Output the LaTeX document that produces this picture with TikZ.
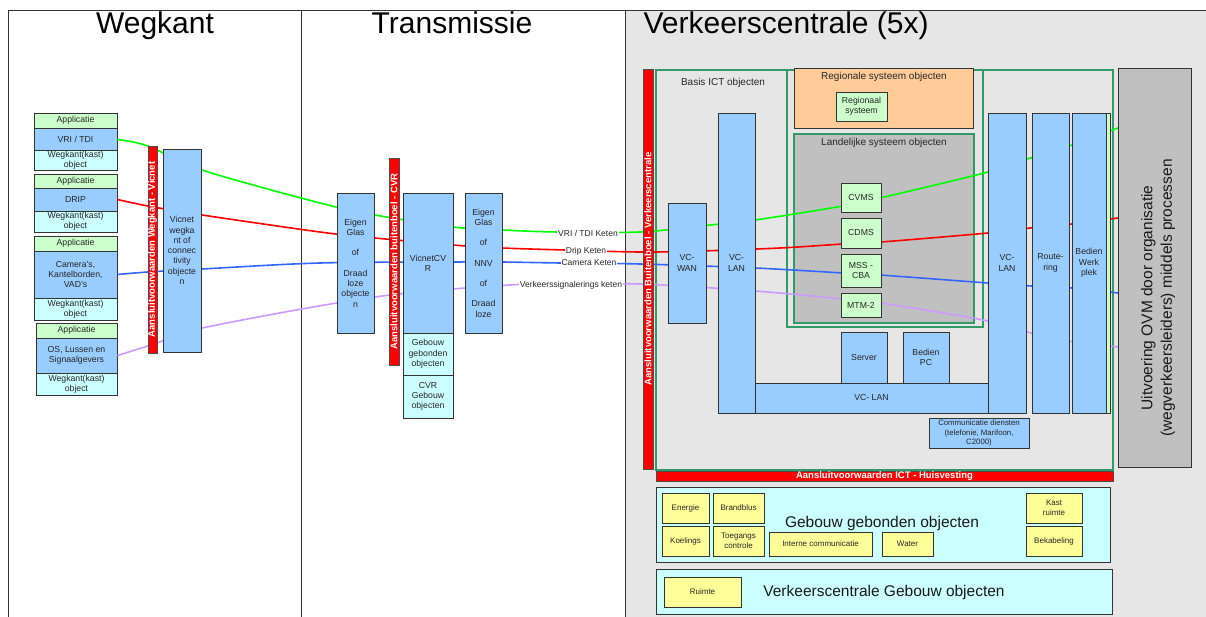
\documentclass[tikz,border=0pt]{standalone}
\usepackage{fontspec}
\setmainfont{Liberation Sans}
\definecolor{cblue}{RGB}{153,204,255}
\definecolor{ccyan}{RGB}{204,255,255}
\definecolor{cgreen}{RGB}{204,255,204}
\definecolor{cyel}{RGB}{255,255,153}
\definecolor{corange}{RGB}{255,204,153}
\definecolor{cgray}{RGB}{192,192,192}
\definecolor{cbg}{RGB}{230,230,230}
\definecolor{cframe}{RGB}{51,153,102}
\definecolor{lgreen}{RGB}{0,255,0}
\definecolor{lred}{RGB}{255,0,0}
\definecolor{lblue}{RGB}{51,102,255}
\definecolor{lpurp}{RGB}{204,153,255}
\newcommand\bx[7]{\node[#2, minimum width={#5pt-#3pt}, minimum height={#6pt-#4pt}] (#1) at ({(#3+#5)/2},{(#4+#6)/2}) {#7};}
\newcommand\vbar[6]{\node[redbar, rotate=90, minimum width={#5pt-#3pt}, minimum height={#4pt-#2pt}] (#1) at ({(#2+#4)/2},{(#3+#5)/2}) {#6};}
\tikzset{
  box/.style={draw=black!80, line width=0.7pt, inner sep=0.5pt, align=center, text=black!85, font=\fontsize{8.7}{10.3}\selectfont},
  bl/.style={box, fill=cblue},
  gr/.style={box, fill=cgreen},
  cy/.style={box, fill=ccyan},
  ye/.style={box, fill=cyel, font=\fontsize{8}{10}\selectfont},
  redbar/.style={fill=lred, draw=black!70, line width=0.5pt, text=white, inner sep=0pt, font=\bfseries\fontsize{9.5}{10}\selectfont},
  frame/.style={draw=cframe, line width=1.5pt},
  conn/.style={line width=1.6pt},
  ket/.style={fill=white, inner sep=1pt, text=black!85, font=\fontsize{8.5}{10}\selectfont},
  ttl/.style={text=black!85, font=\fontsize{10}{12}\selectfont},
  big/.style={font=\fontsize{30}{32}\selectfont, anchor=base},
  mid/.style={text=black!90, font=\fontsize{15.5}{17}\selectfont}
}
\begin{document}
\begin{tikzpicture}[x=1pt,y=-1pt]
\useasboundingbox (0,0) rectangle (1206,617);
% background and frame
\fill[cbg] (625,10) rectangle (1206,617);
\draw[black!80, line width=0.8pt] (8,617) -- (8,10) -- (1206,10);
\draw[black!80, line width=0.8pt] (301,10) -- (301,617);
\draw[black!80, line width=0.8pt] (625,10) -- (625,617);
\node[big] (tw) at (155,34) {Wegkant};
\node[big] (tt) at (452,34) {Transmissie};
\node[big, anchor=base west] (tv) at (640,34) {Verkeerscentrale (5x)};

% frames
\draw[frame] (656,70) rectangle (1113,470);
\draw[frame] (787,70) rectangle (983,327);
\node[ttl] (tbasis) at (723,83) {Basis ICT objecten};
\draw[frame, fill=cgray] (794,134) rectangle (974,323);
\node[ttl] (tland) at (884,143) {Landelijke systeem objecten};

% left boxes (start nodes first)
\bx{app1}{gr}{34}{113}{117}{128}{Applicatie}
\bx{vri}{bl}{34}{128}{117}{151}{VRI / TDI}
\bx{wk1}{cy}{34}{151}{117}{170}{Wegkant(kast)\\object}
\bx{app2}{gr}{34}{174}{117}{188}{Applicatie}
\bx{drip}{bl}{34}{188}{117}{211}{DRIP}
\bx{wk2}{cy}{34}{211}{117}{232}{Wegkant(kast)\\object}
\bx{app3}{gr}{34}{236}{117}{251}{Applicatie}
\bx{cam}{bl}{34}{251}{117}{298}{Camera's,\\Kantelborden,\\VAD's}
\bx{wk3}{cy}{34}{298}{117}{320}{Wegkant(kast)\\object}
\bx{app4}{gr}{36}{323}{117}{338}{Applicatie}
\bx{os}{bl}{36}{338}{117}{373}{OS, Lussen en\\Signaalgevers}
\bx{wk4}{cy}{36}{373}{117}{395}{Wegkant(kast)\\object}

% end coordinates on OVM box
\coordinate (gE) at (1118,128);
\coordinate (rE) at (1118,218);
\coordinate (bE) at (1118,293);
\coordinate (pE) at (1118,347);

% connectors
\draw[conn, lgreen] plot[smooth, tension=0.55] coordinates {(vri.east) (148,146) (202,170) (320,203) (375,215) (453,227) (502,230) (557,232) (640,232) (700,226) (755,220) (843,206) (880,198) (988,172) (1030,158) (1072,145) (gE)};
\draw[conn, lred] plot[smooth, tension=0.55] coordinates {(drip.east) (148,206) (202,215) (320,232) (375,238) (453,245) (502,248) (565,250) (640,252) (700,251) (780,248) (843,244) (881,242) (988,233) (1030,228) (1072,224) (rE)};
\draw[conn, lblue] plot[smooth, tension=0.55] coordinates {(cam.east) (148,272) (202,269) (320,263) (453,262) (502,262) (560,263) (640,264) (755,268) (843,273) (880,275) (988,283) (1032,286) (1072,288) (bE)};
\draw[conn, lpurp] plot[smooth, tension=0.55] coordinates {(os.east) (157,343) (202,328) (375,297) (510,285) (560,285) (640,284) (755,291) (843,299) (881,303) (988,321) (1050,338) (pE)};

\node[ket] (kvri) at (588,233) {VRI / TDI Keten};
\node[ket] (kdrip) at (586,251) {Drip Keten};
\node[ket] (kcam) at (589,263) {Camera Keten};
\node[ket] (kver) at (571,285) {Verkeerssignalerings keten};

% left column bar and vicnet
\vbar{rb1}{148}{146}{157}{353}{Aansluitvoorwaarden Wegkant - Vicnet}
\bx{vicnet}{bl}{163}{149}{201}{352}{Vicnet\\wegka\\nt of\\connec\\tivity\\objecte\\n}

% transmission
\bx{eg}{bl}{337}{193}{374}{333}{Eigen\\Glas\\[10pt]of\\[10pt]Draad\\loze\\objecte\\n}
\vbar{rb2}{389}{158}{399}{365}{Aansluitvoorwaarden buitenboel - CVR}
\bx{vcvr}{bl}{403}{193}{453}{333}{VicnetCV\\R}
\bx{ggo}{cy}{403}{333}{453}{375}{Gebouw\\gebonden\\objecten}
\bx{cvrg}{cy}{403}{375}{453}{418}{CVR\\Gebouw\\objecten}
\bx{nnv}{bl}{465}{193}{502}{333}{Eigen\\Glas\\[10pt]of\\[10pt]NNV\\[10pt]of\\[10pt]Draad\\loze}

% verkeerscentrale
\vbar{rb3}{643}{69}{653}{469}{Aansluitvoorwaarden Buitenboel - Verkeerscentrale}
\bx{orange}{box, fill=corange}{794}{68}{973}{128}{}
\node[ttl] (treg) at (884,77) {Regionale systeem objecten};
\bx{regsys}{gr}{836}{92}{887}{121}{Regionaal\\systeem}
\bx{cvms}{gr}{841}{183}{881}{212}{CVMS}
\bx{cdms}{gr}{841}{218}{881}{248}{CDMS}
\bx{mss}{gr}{841}{254}{881}{287}{MSS -\\CBA}
\bx{mtm}{gr}{841}{293}{881}{317}{MTM-2}
\bx{vcwan}{bl}{668}{203}{706}{323}{VC-\\WAN}
\bx{vclan1}{bl}{718}{113}{755}{413}{VC-\\LAN}
\bx{vclanh}{bl}{755}{383}{988}{413}{VC- LAN}
\bx{server}{bl}{841}{332}{887}{383}{Server}
\bx{bpc}{bl}{903}{332}{949}{383}{Bedien\\PC}
\bx{vclan2}{bl}{988}{113}{1026}{413}{VC-\\LAN}
\bx{route}{bl}{1032}{113}{1069}{413}{Route-\\ring}
\bx{bwstrip}{gr}{1076}{113}{1110}{413}{}
\bx{bw}{bl}{1072}{113}{1106}{413}{Bedien\\Werk\\plek}
\bx{comm}{bl, font=\fontsize{7.8}{9.5}\selectfont}{929}{418}{1029}{448}{Communicatie diensten\\(telefonie, Marifoon,\\C2000)}
\bx{ovm}{box, fill=cgray}{1118}{68}{1191}{467}{}
\node[rotate=90, align=center, text=black!90, font=\fontsize{15.5}{19.5}\selectfont] (ovmtxt) at (1158,298) {Uitvoering OVM door organisatie\\(wegverkeersleiders) middels processen};
\node[redbar, minimum width=457pt, minimum height=10pt] (rb4) at (884.5,476) {Aansluitvoorwaarden ICT - Huisvesting};

% buildings
\bx{geb}{box, fill=ccyan}{656}{487}{1110}{562}{}
\node[mid] (gebt) at (882,523) {Gebouw gebonden objecten};
\bx{energie}{ye}{662}{493}{709}{523}{Energie}
\bx{brand}{ye}{713}{493}{764}{523}{Brandblus}
\bx{koel}{ye}{662}{526}{709}{556}{Koelings}
\bx{toeg}{ye}{713}{526}{764}{556}{Toegangs\\controle}
\bx{intern}{ye}{769}{532}{872}{556}{Interne communicatie}
\bx{water}{ye}{882}{532}{933}{556}{Water}
\bx{kast}{ye}{1026}{493}{1082}{523}{Kast\\ruimte}
\bx{bekab}{ye}{1026}{526}{1082}{556}{Bekabeling}
\bx{vcg}{box, fill=ccyan}{656}{569}{1112}{614}{}
\node[mid] (vcgt) at (884,592) {Verkeerscentrale Gebouw objecten};
\bx{ruimte}{ye}{664}{577}{741}{607}{Ruimte}
\end{tikzpicture}
\end{document}
